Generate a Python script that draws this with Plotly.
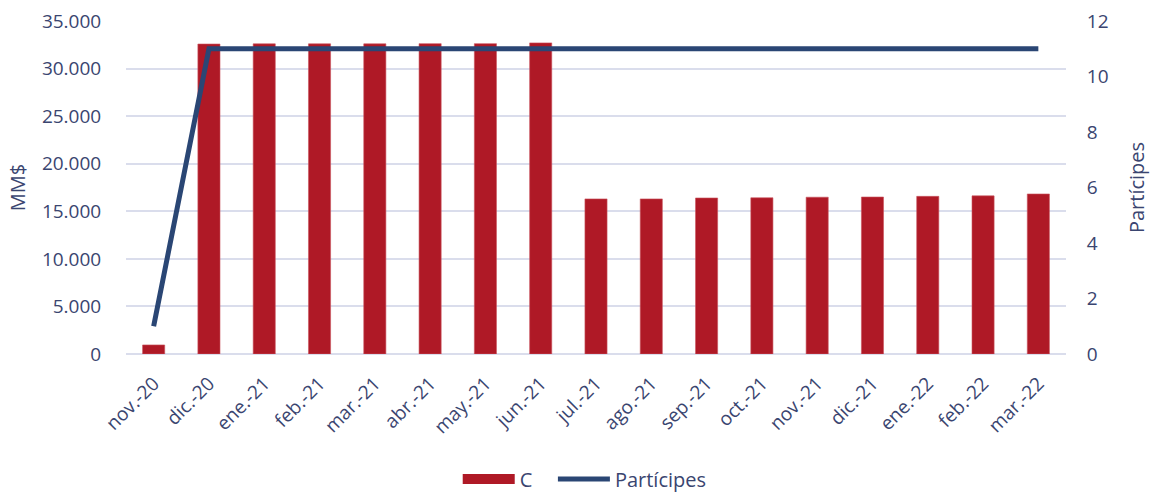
import plotly.graph_objects as go

categories = ["nov.-20", "dic.-20", "ene.-21", "feb.-21", "mar.-21", "abr.-21", "may.-21",
              "jun.-21", "jul.-21", "ago.-21", "sep.-21", "oct.-21", "nov.-21", "dic.-21",
              "ene.-22", "feb.-22", "mar.-22"]
c_values = [950, 32580, 32600, 32600, 32600, 32620, 32620, 32700, 16300, 16300, 16400,
            16420, 16480, 16500, 16570, 16620, 16820]
participes = [1, 11, 11, 11, 11, 11, 11, 11, 11, 11, 11, 11, 11, 11, 11, 11, 11]

text_color = "#3A4570"
bar_color = "#AF1926"
line_color = "#2A4674"
font_family = "Open Sans, Noto Sans, sans-serif"

fig = go.Figure()
fig.add_trace(go.Bar(
    x=categories, y=c_values, name="C",
    marker=dict(color=bar_color, line=dict(color="#C9545E", width=0.6)),
    yaxis="y", showlegend=False,
))
fig.add_trace(go.Scatter(
    x=categories, y=participes, name="Partícipes", mode="lines",
    line=dict(color=line_color, width=5),
    yaxis="y2", showlegend=False,
))
# legend entries
fig.add_trace(go.Scatter(x=[None], y=[None], name="C\u00a0\u00a0\u00a0", mode="lines",
                         line=dict(color=bar_color, width=13), yaxis="y"))
fig.add_trace(go.Scatter(x=[None], y=[None], name="Partícipes", mode="lines",
                         line=dict(color=line_color, width=5), yaxis="y2"))

fig.update_layout(
    width=1151, height=494,
    margin=dict(l=126, r=85, t=21, b=140),
    paper_bgcolor="white", plot_bgcolor="white",
    separators=",.",
    font=dict(family=font_family, size=19, color=text_color),
    bargap=0.6,
    showlegend=True,
    legend=dict(orientation="h", x=0.488, xanchor="center", yref="container",
                y=1 - 479 / 494, yanchor="middle", itemwidth=52,
                font=dict(size=20, color=text_color), traceorder="normal"),
    xaxis=dict(tickangle=-45, tickfont=dict(size=19, color=text_color), showgrid=False,
               showline=False, ticks="outside", ticklen=10, tickcolor="rgba(0,0,0,0)",
               automargin=False),
    yaxis=dict(range=[0, 35000], dtick=5000, tickformat=",d", showgrid=True,
               gridcolor="#DADDEC", gridwidth=1.5, zeroline=True, zerolinecolor="#DADDEC",
               zerolinewidth=1.5, automargin=False,
               title=dict(text="MM$", font=dict(size=20, color=text_color), standoff=10),
               tickfont=dict(size=19, color=text_color), ticks="outside", ticklen=20,
               tickcolor="rgba(0,0,0,0)"),
    yaxis2=dict(range=[0, 12], dtick=2, overlaying="y", side="right", showgrid=False,
                zeroline=False, automargin=False,
                title=dict(text="Partícipes", font=dict(size=20, color=text_color), standoff=22),
                tickfont=dict(size=19, color=text_color), ticks="outside", ticklen=16,
                tickcolor="rgba(0,0,0,0)"),
)

fig.write_html("out.html", config={"displayModeBar": False},
               post_script="document.body.style.margin='0';document.body.style.overflow='hidden';")
